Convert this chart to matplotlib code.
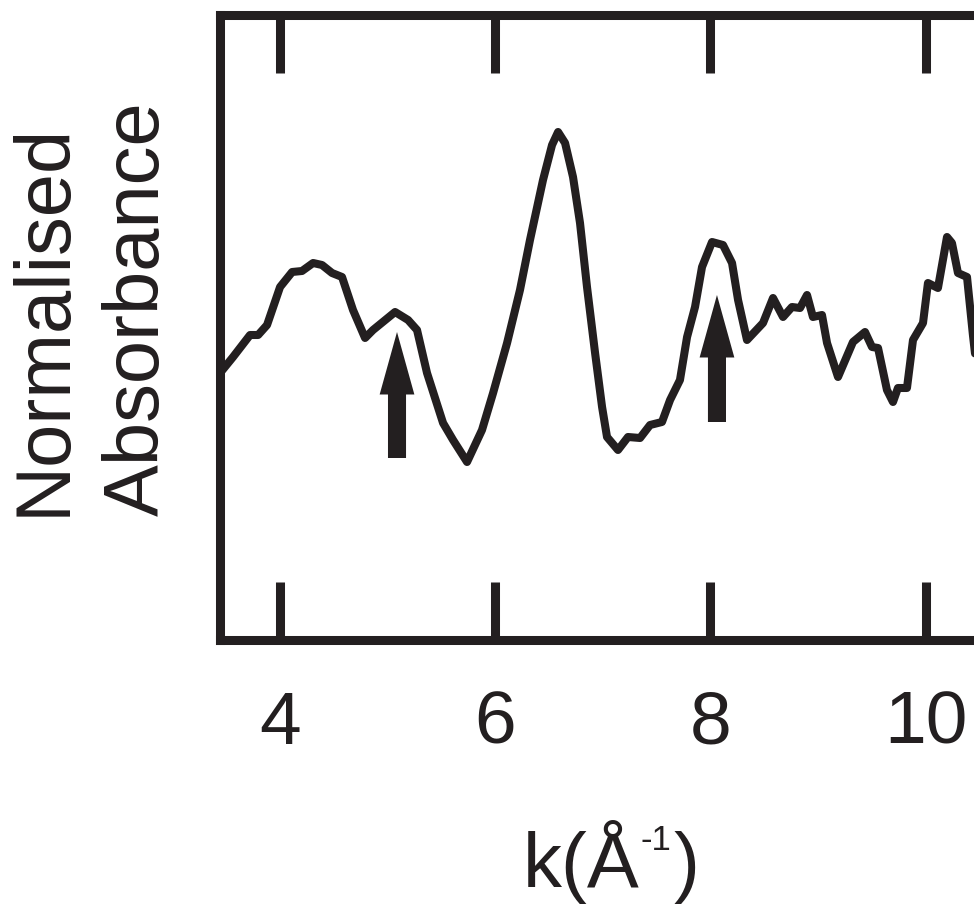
import matplotlib
matplotlib.use("Agg")
import matplotlib.pyplot as plt
from matplotlib.patches import FancyArrowPatch

plt.rcParams['font.family'] = ['Liberation Sans', 'DejaVu Sans']

INK = '#231f20'

# spectrum (k in 1/Angstrom, absorbance in arbitrary units)
k = [3.442, 3.563, 3.721, 3.796, 3.879, 4.000, 4.112, 4.204, 4.307, 4.390,
     4.483, 4.576, 4.678, 4.790, 4.864, 5.069, 5.190, 5.273, 5.366, 5.515,
     5.608, 5.738, 5.877, 5.980, 6.110, 6.230, 6.323, 6.444, 6.528, 6.584,
     6.649, 6.723, 6.788, 6.853, 6.928, 6.993, 7.039, 7.141, 7.234, 7.346,
     7.439, 7.550, 7.625, 7.717, 7.783, 7.857, 7.922, 8.015, 8.117, 8.201,
     8.257, 8.340, 8.489, 8.582, 8.675, 8.758, 8.833, 8.898, 8.953, 9.037,
     9.084, 9.186, 9.325, 9.437, 9.502, 9.558, 9.641, 9.697, 9.743, 9.827,
     9.883, 9.976, 10.022, 10.115, 10.199, 10.245, 10.301, 10.385, 10.440, 10.487]
absorb = [2.67, 2.83, 3.05, 3.05, 3.15, 3.53, 3.68, 3.69, 3.77, 3.75,
          3.67, 3.63, 3.30, 3.02, 3.10, 3.28, 3.20, 3.10, 2.67, 2.17,
          2.00, 1.78, 2.10, 2.47, 2.97, 3.50, 4.00, 4.60, 4.95, 5.08,
          4.97, 4.63, 4.17, 3.53, 2.87, 2.33, 2.03, 1.90, 2.03, 2.02,
          2.15, 2.18, 2.40, 2.60, 3.03, 3.33, 3.73, 3.98, 3.95, 3.77,
          3.40, 3.00, 3.17, 3.42, 3.23, 3.33, 3.32, 3.45, 3.23, 3.25,
          2.97, 2.63, 2.98, 3.08, 2.93, 2.92, 2.50, 2.38, 2.52, 2.52,
          3.00, 3.17, 3.57, 3.52, 4.03, 3.97, 3.67, 3.63, 3.05, 2.60]

xticks = [4, 6, 8, 10]

# arrows marking features: x position, tail and tip heights
arrow_k = [5.087, 8.061]
arrow_tail = [1.82, 2.18]
arrow_tip = [3.08, 3.45]

fig = plt.figure(figsize=(9.74, 9.06), dpi=100)
ax = fig.add_axes([0.2259, 0.2936, 0.7741, 0.6893])

ax.plot(k, absorb, color=INK, lw=5.8, solid_joinstyle='round', solid_capstyle='round')

for xa, y0, y1 in zip(arrow_k, arrow_tail, arrow_tip):
    ar = FancyArrowPatch((xa, y0), (xa, y1), arrowstyle='simple,head_length=45,head_width=25,tail_width=13',
                         mutation_scale=1, shrinkA=0, shrinkB=0, color=INK, lw=0)
    ax.add_patch(ar)

ax.set_xlim(3.442, 10.45)
ax.set_ylim(0, 6.245)

for side in ['left', 'top', 'bottom']:
    ax.spines[side].set_linewidth(6.5)
    ax.spines[side].set_color(INK)
    ax.spines[side].set_capstyle('projecting')
ax.spines['right'].set_visible(False)

ax.set_xticks(xticks)
ax.set_yticks([])
ax.tick_params(axis='x', which='both', direction='in', top=True, bottom=True,
               length=42, width=6.5, color=INK, labelsize=54, labelcolor=INK, pad=36)

fig.text(91 / 974, 1 - 516 / 906, "Normalised\nAbsorbance", rotation=90, fontsize=56,
         ha='center', va='bottom', multialignment='left', color=INK, linespacing=1.38)

# x label with a small superscript
yb = 1 - 888 / 906
fig.text(523 / 974, yb, "k(Å", fontsize=56, ha='left', va='baseline', color=INK)
fig.text(641 / 974, 1 - 850 / 906, "-1", fontsize=25, ha='left', va='baseline', color=INK)
fig.text(673 / 974, yb, ")", fontsize=56, ha='left', va='baseline', color=INK)

fig.savefig("out.png", dpi=100)
